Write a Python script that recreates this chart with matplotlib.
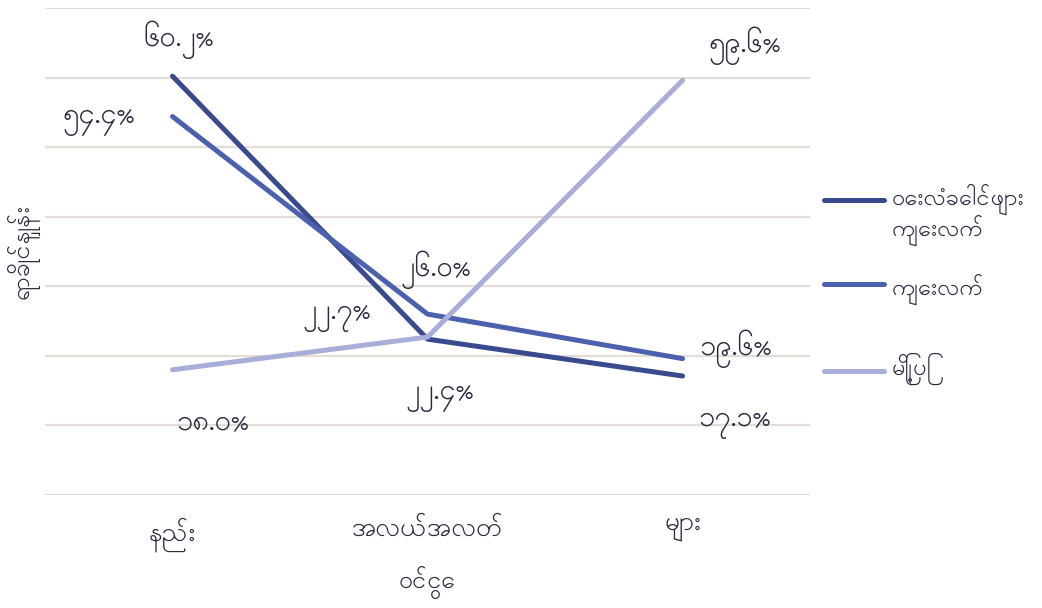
import matplotlib
matplotlib.use("Agg")
import matplotlib.pyplot as plt
from matplotlib.lines import Line2D

# Income groups and share of households (%) per area type
categories = ["နည်း", "အလယ်အလတ်", "များ"]
series_names = ["ဝေးလံခေါင်ဖျား\nကျေးလက်", "ကျေးလက်", "မြို့ပြ"]
remote_rural = [60.2, 22.4, 17.1]
rural = [54.4, 26.0, 19.6]
urban = [18.0, 22.7, 59.6]
x_title = "ဝင်ငွေ"
y_title = "ရာခိုင်နှုန်း"

MM_DIGITS = str.maketrans("0123456789", "၀၁၂၃၄၅၆၇၈၉")


def mm_pct(v):
    return f"{v:.1f}".translate(MM_DIGITS) + "%"


plt.rcParams["font.family"] = ["Padauk", "Yinmar", "DejaVu Sans"]

TEXT = "#2b2a3f"
GRID = "#e3ddd7"
colors = ["#3a4a8f", "#4b61ad", "#a9aed8"]
FS_VAL = 21
FS_AX = 19

W, H = 1042, 608
fig = plt.figure(figsize=(W / 100, H / 100), dpi=100)
ax = fig.add_axes([0.0432, 0.1859, 0.7342, 0.8009])

xs = list(range(len(categories)))
data = [remote_rural, rural, urban]
for vals, c in zip(data, colors):
    ax.plot(xs, vals, color=c, lw=3.6, solid_capstyle="round", zorder=3)

ax.set_xlim(-0.5, len(categories) - 0.5)
ax.set_ylim(0, 70)
ax.set_yticks(range(0, 71, 10))
ax.yaxis.grid(True, color=GRID, lw=1.6)
ax.set_axisbelow(True)
ax.tick_params(axis="y", length=0, labelleft=False)
ax.tick_params(axis="x", length=0, pad=16, labelsize=FS_AX, labelcolor=TEXT)
ax.set_xticks(xs)
ax.set_xticklabels(categories)
for s in ax.spines.values():
    s.set_visible(False)

ax.set_xlabel(x_title, fontsize=FS_AX - 1, color=TEXT, labelpad=10)
ax.set_ylabel(y_title, fontsize=FS_AX - 1, color=TEXT, labelpad=4)

# Value labels: (series index, point index, x offset px, y offset px)
label_offsets = [
    (0, 0, 6, 36), (0, 1, 12, -59), (0, 2, 52, -49),
    (1, 0, -74, -6), (1, 1, 8, 44), (1, 2, 53, 10),
    (2, 0, 40, -54), (2, 1, -91, 19), (2, 2, 62, 35),
]
for si, pi, dx, dy in label_offsets:
    v = data[si][pi]
    ax.annotate(mm_pct(v), (xs[pi], v), xytext=(dx, dy), textcoords="offset pixels",
                ha="center", va="center", fontsize=FS_VAL, color=TEXT)

# Legend: handle sits level with the first line of each entry
legend_rows = [200, 284, 371]
text_shift = [10, 0, -7]
for name, c, ypx, sh in zip(series_names, colors, legend_rows, text_shift):
    yf = 1 - ypx / H
    fig.add_artist(Line2D([824 / W, 884 / W], [yf, yf], color=c, lw=3.6,
                          solid_capstyle="round", transform=fig.transFigure))
    fig.text(892 / W, 1 - (ypx + sh) / H, name, fontsize=17, color=TEXT, ha="left",
             va="center_baseline", linespacing=0.95)

fig.savefig("out.png", dpi=100, facecolor="white")
